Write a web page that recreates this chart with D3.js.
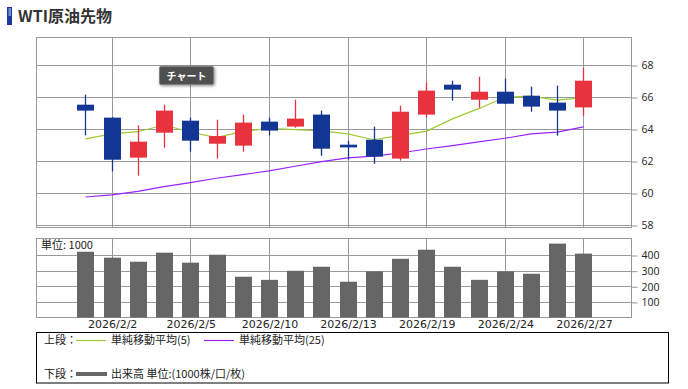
<!DOCTYPE html>
<html><head><meta charset="utf-8">
<script src="https://cdn.jsdelivr.net/npm/d3@7"></script>
<style>body{margin:0;background:#fff;} svg{display:block;}</style>
</head><body>
<svg id="c" width="688" height="389"></svg>
<script>
const dates = ["2026/1/30","2026/2/2","2026/2/3","2026/2/4","2026/2/5","2026/2/6","2026/2/9","2026/2/10","2026/2/11","2026/2/12","2026/2/13","2026/2/17","2026/2/18","2026/2/19","2026/2/20","2026/2/23","2026/2/24","2026/2/25","2026/2/26","2026/2/27"];
const open  = [65.52,64.71,62.21,63.77,64.52,63.08,62.96,64.46,64.15,64.90,63.02,63.33,62.15,64.90,66.77,65.83,66.33,66.08,65.65,65.35];
const high  = [66.15,64.75,64.23,65.52,64.71,64.58,64.90,64.71,65.83,65.15,63.27,64.15,65.46,66.90,67.02,67.27,67.15,66.65,66.71,67.83];
const low   = [63.60,61.35,61.08,62.83,62.58,62.15,62.58,63.60,64.08,62.33,62.08,61.83,62.02,64.73,65.77,65.33,65.55,65.08,63.58,64.83];
const close = [65.15,62.08,63.21,65.15,63.27,63.56,64.40,63.90,64.65,62.77,62.85,62.27,65.08,66.40,66.46,66.33,65.58,65.40,65.15,67.02];
const ma5   = [63.38,63.69,63.83,64.25,63.81,63.46,63.85,64.04,63.96,63.88,63.70,63.33,63.60,63.85,64.63,65.27,65.98,66.06,65.81,65.96];
const ma25  = [59.75,59.88,60.10,60.40,60.65,60.92,61.15,61.38,61.67,61.96,62.19,62.31,62.50,62.75,62.96,63.19,63.42,63.69,63.81,64.13];
const volume = [421,383,357,415,351,402,261,241,299,325,229,295,376,434,325,241,295,280,473,409];
const xTickLabels = ["2026/2/2","2026/2/5","2026/2/10","2026/2/13","2026/2/19","2026/2/24","2026/2/27"];
const priceTicks = [58,60,62,64,66,68];
const volumeTicks = [100,200,300,400];

const svg = d3.select("#c");
const L = 36, R = 631;
const mainTop = 37, mainBot = 227;
const volTop = 238, volBot = 317.5;
const gridColor = "#999";
const RED = "#e8333f", BLUE = "#133594";

const x = d3.scalePoint().domain(dates).range([L, R]).padding(1.85).align(0.51);
const y = d3.scaleLinear().domain([57.875, 69.75]).range([mainBot, mainTop]);
const yv = d3.scaleLinear().domain([0, 509]).range([volBot, volTop]);
const cx = d => Math.round(x(d));

// Title
svg.append("rect").attr("x",7).attr("y",7).attr("width",5).attr("height",18).attr("fill","#1c3a98");
svg.append("rect").attr("x",8.5).attr("y",8).attr("width",2.5).attr("height",8).attr("fill","#6f8fd6");
svg.append("text").attr("x",18).attr("y",22).attr("font-family","'Noto Sans CJK JP', sans-serif")
  .attr("font-size",16).attr("font-weight","bold").attr("fill","#333").text("WTI原油先物");

// ---------- Main panel ----------
const main = svg.append("g");
main.append("rect").attr("x",L+0.5).attr("y",mainTop+0.5).attr("width",R-L).attr("height",mainBot-mainTop)
  .attr("fill","#fff").attr("stroke",gridColor);
// horizontal grid
main.selectAll(".hg").data(priceTicks).join("line")
  .attr("x1",L).attr("x2",R).attr("y1",d=>Math.round(y(d))+0.5).attr("y2",d=>Math.round(y(d))+0.5)
  .attr("stroke",gridColor);
// vertical grid
main.selectAll(".vg").data(xTickLabels).join("line")
  .attr("x1",d=>cx(d)+0.5).attr("x2",d=>cx(d)+0.5).attr("y1",mainTop).attr("y2",mainBot)
  .attr("stroke",gridColor);
// right axis
const ya = d3.axisRight(y).tickValues(priceTicks).tickSize(6).tickPadding(4).tickFormat(d3.format("d"));
const yag = main.append("g").attr("transform",`translate(${R+0.5},0.5)`).call(ya);
yag.select(".domain").remove();
yag.selectAll(".tick line").attr("stroke",gridColor);
yag.selectAll("text").attr("font-family","'Open Sans', sans-serif").attr("font-size",10.5).attr("fill","#222");

// MA lines
const idx = d3.range(dates.length);
const line5 = d3.line().x(i=>x(dates[i])).y(i=>y(ma5[i]));
const line25 = d3.line().x(i=>x(dates[i])).y(i=>y(ma25[i]));
main.append("path").attr("d",line25(idx)).attr("fill","none").attr("stroke","#9a22ff").attr("stroke-width",1.2);
main.append("path").attr("d",line5(idx)).attr("fill","none").attr("stroke","#9acd32").attr("stroke-width",1.2);

// candles
const cg = main.selectAll(".candle").data(idx).join("g");
cg.append("line")
  .attr("x1",i=>cx(dates[i])+0.5).attr("x2",i=>cx(dates[i])+0.5)
  .attr("y1",i=>y(high[i])).attr("y2",i=>y(low[i]))
  .attr("stroke",i=>close[i]>=open[i]?RED:BLUE).attr("stroke-width",1.3);
cg.append("rect")
  .attr("x",i=>cx(dates[i])-8).attr("width",17)
  .attr("y",i=>y(Math.max(open[i],close[i])))
  .attr("height",i=>Math.max(1.5, Math.abs(y(open[i])-y(close[i]))))
  .attr("fill",i=>close[i]>=open[i]?RED:BLUE);

// chart tooltip button
const defs = svg.append("defs");
const f = defs.append("filter").attr("id","sh").attr("x","-20%").attr("y","-30%").attr("width","150%").attr("height","180%");
f.append("feDropShadow").attr("dx",1).attr("dy",1).attr("stdDeviation",1.5).attr("flood-color","#000").attr("flood-opacity",0.45);
svg.append("rect").attr("x",159.5).attr("y",66.5).attr("width",54).attr("height",18).attr("rx",1.5)
  .attr("fill","#4f4f4f").attr("stroke","#808080").attr("filter","url(#sh)");
svg.append("text").attr("x",186.5).attr("y",79.5).attr("text-anchor","middle")
  .attr("font-family","'Noto Sans CJK JP', sans-serif").attr("font-size",10).attr("font-weight","bold")
  .attr("fill","#fff").text("チャート");

// ---------- Volume panel ----------
const vol = svg.append("g");
vol.append("rect").attr("x",L+0.5).attr("y",volTop+0.5).attr("width",R-L).attr("height",volBot-volTop-0.5)
  .attr("fill","#fff").attr("stroke",gridColor);
vol.selectAll(".hg").data(volumeTicks).join("line")
  .attr("x1",L).attr("x2",R).attr("y1",d=>Math.round(yv(d))+0.5).attr("y2",d=>Math.round(yv(d))+0.5)
  .attr("stroke",gridColor);
vol.selectAll(".vg").data(xTickLabels).join("line")
  .attr("x1",d=>cx(d)+0.5).attr("x2",d=>cx(d)+0.5).attr("y1",volTop).attr("y2",volBot)
  .attr("stroke",gridColor);
vol.selectAll(".bar").data(idx).join("rect")
  .attr("x",i=>cx(dates[i])-8).attr("width",17)
  .attr("y",i=>yv(volume[i])).attr("height",i=>volBot-yv(volume[i]))
  .attr("fill","#666");
const yva = d3.axisRight(yv).tickValues(volumeTicks).tickSize(6).tickPadding(4);
const yvag = vol.append("g").attr("transform",`translate(${R+0.5},0.5)`).call(yva);
yvag.select(".domain").remove();
yvag.selectAll(".tick line").attr("stroke",gridColor);
yvag.selectAll("text").attr("font-family","'Open Sans', sans-serif").attr("font-size",10.5).attr("fill","#222");
vol.append("text").attr("x",41).attr("y",249).attr("font-family","'Noto Sans CJK JP', sans-serif")
  .attr("font-size",11).attr("fill","#222").text("単位: 1000");

// x axis labels
const xa = d3.axisBottom(x).tickValues(xTickLabels).tickSize(0).tickPadding(3);
const xag = svg.append("g").attr("transform",`translate(0.5,${volBot})`).call(xa);
xag.select(".domain").remove();
xag.selectAll("text").attr("font-family","'DejaVu Sans', sans-serif").attr("font-size",11).attr("fill","#222");

// ---------- Legend ----------
const lg = svg.append("g");
lg.append("rect").attr("x",36.5).attr("y",332.5).attr("width",632).attr("height",50.5)
  .attr("fill","#fff").attr("stroke","#000");
const lf = "'Noto Sans CJK JP', sans-serif";
lg.append("text").attr("x",44).attr("y",344).attr("font-family",lf).attr("font-size",11).attr("fill","#222").text("上段：");
lg.append("line").attr("x1",76).attr("x2",106).attr("y1",340.5).attr("y2",340.5).attr("stroke","#9acd32").attr("stroke-width",1.2);
lg.append("text").attr("x",111).attr("y",344).attr("font-family",lf).attr("font-size",11).attr("fill","#222").text("単純移動平均(5)");
lg.append("line").attr("x1",204).attr("x2",234).attr("y1",340.5).attr("y2",340.5).attr("stroke","#9a22ff").attr("stroke-width",1.2);
lg.append("text").attr("x",239).attr("y",344).attr("font-family",lf).attr("font-size",11).attr("fill","#222").text("単純移動平均(25)");
lg.append("text").attr("x",44).attr("y",378).attr("font-family",lf).attr("font-size",11).attr("fill","#222").text("下段：");
lg.append("line").attr("x1",76).attr("x2",107).attr("y1",374).attr("y2",374).attr("stroke","#666").attr("stroke-width",4);
lg.append("text").attr("x",111).attr("y",378).attr("font-family",lf).attr("font-size",11).attr("fill","#222").text("出来高 単位:(1000株/口/枚)");
</script>
</body></html>
